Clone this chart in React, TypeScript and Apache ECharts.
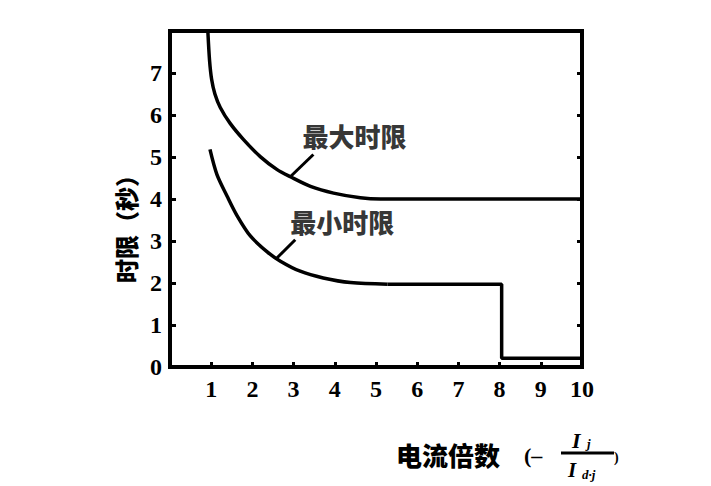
import React, { useEffect, useRef } from "react";
import * as echarts from "echarts";

// x: 电流倍数, y: 时限 (秒)
const maxCurve: [number, number][] = [
  [0.92, 7.97], [0.96, 7.3], [1.01, 6.85], [1.09, 6.5], [1.22, 6.18], [1.46, 5.8], [1.78, 5.42],
  [2.19, 5.01], [2.6, 4.7], [2.92, 4.53], [3.41, 4.3], [3.97, 4.14], [4.62, 4.03],
  [5.11, 4.0], [10, 4.0],
];
const minCurve: [number, number][] = [
  [0.97, 5.18], [1.14, 4.58], [1.39, 4.06], [1.63, 3.6], [1.95, 3.12], [2.36, 2.74],
  [2.68, 2.52], [3.16, 2.28], [3.72, 2.12], [4.38, 2.01], [5.28, 1.97],
];
const minStep: [number, number][] = [
  [5.28, 1.97], [8.05, 1.97], [8.05, 0.21], [10, 0.21],
];
const leaderMax: [number, number][] = [[2.92, 4.53], [3.48, 5.06]];
const leaderMin: [number, number][] = [[2.6, 2.6], [3.04, 3.03]];
const curveLabels = [
  { name: "最大时限", value: [4.48, 5.51] },
  { name: "最小时限", value: [4.18, 3.46] },
];
const xRange = [0, 10];
const yRange = [0, 8];

const CJK = '"Noto Sans CJK SC", sans-serif';
const SERIF = '"Liberation Serif", "DejaVu Serif", serif';

export default function App() {
  const ref = useRef<HTMLDivElement>(null);
  useEffect(() => {
    if (!ref.current) return;
    const chart = echarts.init(ref.current, undefined, { renderer: "svg" });
    const lineSeries = (data: [number, number][], smooth: boolean | number, width: number) => ({
      type: "line",
      data,
      smooth,
      symbol: "none",
      silent: true,
      lineStyle: { color: "#000", width },
      z: 3,
    });
    chart.setOption({
      animation: false,
      backgroundColor: "#fff",
      grid: { left: 170, right: 129, top: 31, bottom: 119, show: true, borderColor: "#000", borderWidth: 4 },
      xAxis: [
        {
          type: "value",
          min: xRange[0],
          max: xRange[1],
          interval: 1,
          splitLine: { show: false },
          axisLine: { lineStyle: { color: "#000", width: 4 } },
          axisTick: { inside: true, length: 5, lineStyle: { color: "#000", width: 3 } },
          axisLabel: {
            margin: 10,
            color: "#000",
            fontFamily: SERIF,
            fontWeight: "bold",
            fontSize: 24,
            formatter: (v: number) => (v === 0 ? "" : String(v)),
          },
        },
      ],
      yAxis: [
        {
          type: "value",
          min: yRange[0],
          max: yRange[1],
          interval: 1,
          splitLine: { show: false },
          axisLine: { lineStyle: { color: "#000", width: 4 } },
          axisTick: { inside: true, length: 6, lineStyle: { color: "#000", width: 3 } },
          axisLabel: {
            margin: 8,
            color: "#000",
            fontFamily: SERIF,
            fontWeight: "bold",
            fontSize: 24,
            formatter: (v: number) => (v === 8 ? "" : String(v)),
          },
        },
        {
          type: "value",
          position: "right",
          min: yRange[0],
          max: yRange[1],
          interval: 1,
          splitLine: { show: false },
          axisLine: { show: true, lineStyle: { color: "#000", width: 4 } },
          axisTick: { inside: true, length: 5, lineStyle: { color: "#000", width: 3 } },
          axisLabel: { show: false },
        },
      ],
      series: [
        lineSeries(maxCurve, 0.3, 3.5),
        lineSeries(minCurve, 0.3, 3.5),
        lineSeries(minStep, false, 3.5),
        lineSeries(leaderMax, false, 3),
        lineSeries(leaderMin, false, 3),
        {
          type: "scatter",
          data: curveLabels,
          symbolSize: 1,
          itemStyle: { color: "rgba(0,0,0,0)" },
          silent: true,
          label: {
            show: true,
            position: "inside",
            formatter: (p: any) => p.name,
            color: "#000",
            fontFamily: CJK,
            fontWeight: 900,
            fontSize: 26,
          },
          z: 4,
        },
      ],
      graphic: [
        {
          type: "text",
          x: 125,
          y: 223,
          rotation: Math.PI / 2,
          style: {
            text: "时限（秒）",
            fill: "#000",
            font: `900 24px ${CJK}`,
            align: "center",
            verticalAlign: "middle",
          },
        },
        {
          type: "text",
          x: 396,
          y: 454,
          style: {
            text: "电流倍数",
            fill: "#000",
            font: `900 26px ${CJK}`,
            align: "left",
            verticalAlign: "middle",
          },
        },
        {
          type: "text",
          x: 524,
          y: 455,
          style: { text: "(–", fill: "#000", font: `bold 22px ${SERIF}`, align: "left", verticalAlign: "middle" },
        },
        {
          type: "line",
          shape: { x1: 561, y1: 453, x2: 614, y2: 453 },
          style: { stroke: "#000", lineWidth: 3 },
        },
        {
          type: "text",
          x: 572,
          y: 440,
          style: { text: "I", fill: "#000", font: `italic bold 22px ${SERIF}`, align: "left", verticalAlign: "middle" },
        },
        {
          type: "text",
          x: 587,
          y: 443,
          style: { text: "j", fill: "#000", font: `italic bold 13px ${SERIF}`, align: "left", verticalAlign: "middle" },
        },
        {
          type: "text",
          x: 568,
          y: 470,
          style: { text: "I", fill: "#000", font: `italic bold 21px ${SERIF}`, align: "left", verticalAlign: "middle" },
        },
        {
          type: "text",
          x: 582,
          y: 474,
          style: { text: "d·j", fill: "#000", font: `italic bold 13px ${SERIF}`, align: "left", verticalAlign: "middle" },
        },
        {
          type: "text",
          x: 614,
          y: 457,
          style: { text: ")", fill: "#000", font: `bold 14px ${SERIF}`, align: "left", verticalAlign: "middle" },
        },
      ],
    });
    return () => chart.dispose();
  }, []);
  return <div ref={ref} style={{ position: "fixed", left: 0, top: 0, width: 711, height: 486 }} />;
}
